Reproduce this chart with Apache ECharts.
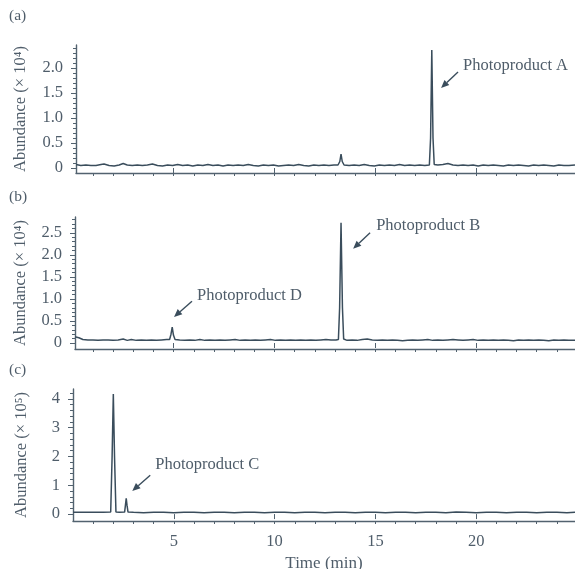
<!DOCTYPE html>
<html>
<head>
<meta charset="utf-8">
<script src="https://cdn.jsdelivr.net/npm/echarts@6/dist/echarts.min.js"></script>
<style>html,body{margin:0;padding:0;background:#fff;}#c{width:575px;height:569px;}</style>
</head>
<body>
<div id="c"></div>
<script>
// ---- data (time in min, abundance) ----
const traceA = [
[0.16,0.07],[0.4,0.05],[0.65,0.06],[0.9,0.05],[1.15,0.05],[1.4,0.07],[1.55,0.08],[1.8,0.05],[2.05,0.04],[2.3,0.06],[2.5,0.09],[2.7,0.06],[2.95,0.05],[3.2,0.06],[3.45,0.05],[3.7,0.06],[3.95,0.08],[4.2,0.05],[4.45,0.04],[4.7,0.06],[4.95,0.05],[5.2,0.07],[5.45,0.05],[5.7,0.06],[5.95,0.04],[6.2,0.06],[6.45,0.05],[6.7,0.07],[6.95,0.05],[7.2,0.06],[7.45,0.04],[7.7,0.06],[7.95,0.05],[8.2,0.06],[8.45,0.05],[8.7,0.07],[8.95,0.05],[9.2,0.04],[9.45,0.06],[9.7,0.05],[9.95,0.06],[10.2,0.04],[10.45,0.05],[10.7,0.06],[10.95,0.05],[11.2,0.07],[11.45,0.05],[11.7,0.04],[11.95,0.06],[12.2,0.05],[12.45,0.06],[12.7,0.05],[12.95,0.06],[13.15,0.06],[13.24,0.13],[13.3,0.28],[13.36,0.13],[13.45,0.06],[13.7,0.05],[13.95,0.06],[14.2,0.05],[14.45,0.07],[14.7,0.05],[14.95,0.04],[15.2,0.06],[15.45,0.05],[15.7,0.06],[15.95,0.05],[16.2,0.07],[16.45,0.05],[16.7,0.06],[16.95,0.05],[17.2,0.06],[17.45,0.05],[17.68,0.06],[17.74,0.6],[17.8,2.36],[17.86,0.6],[17.92,0.07],[18.1,0.06],[18.35,0.07],[18.6,0.09],[18.85,0.06],[19.1,0.05],[19.35,0.06],[19.6,0.05],[19.85,0.06],[20.1,0.04],[20.35,0.06],[20.6,0.05],[20.85,0.06],[21.1,0.05],[21.35,0.04],[21.6,0.06],[21.85,0.05],[22.1,0.06],[22.35,0.05],[22.6,0.04],[22.85,0.06],[23.1,0.05],[23.35,0.06],[23.6,0.05],[23.85,0.04],[24.1,0.06],[24.35,0.05],[24.6,0.05],[24.9,0.06]
];
const traceB = [
[0.11,0.14],[0.3,0.12],[0.5,0.08],[0.75,0.07],[1.0,0.07],[1.25,0.06],[1.5,0.07],[1.75,0.07],[2.0,0.06],[2.25,0.07],[2.5,0.09],[2.7,0.06],[2.9,0.08],[3.15,0.06],[3.4,0.07],[3.65,0.06],[3.9,0.07],[4.15,0.06],[4.4,0.07],[4.65,0.08],[4.8,0.08],[4.87,0.2],[4.93,0.36],[4.99,0.18],[5.07,0.08],[5.3,0.07],[5.55,0.06],[5.8,0.07],[6.05,0.06],[6.3,0.08],[6.55,0.06],[6.8,0.07],[7.05,0.06],[7.3,0.07],[7.55,0.06],[7.8,0.07],[8.05,0.08],[8.3,0.06],[8.55,0.07],[8.8,0.06],[9.05,0.07],[9.3,0.06],[9.55,0.07],[9.8,0.08],[10.05,0.06],[10.3,0.07],[10.55,0.06],[10.8,0.07],[11.05,0.06],[11.3,0.07],[11.55,0.06],[11.8,0.07],[12.05,0.06],[12.3,0.07],[12.55,0.08],[12.8,0.07],[13.05,0.07],[13.17,0.08],[13.23,0.8],[13.3,2.73],[13.37,0.8],[13.43,0.09],[13.6,0.06],[13.85,0.07],[14.1,0.06],[14.35,0.08],[14.6,0.09],[14.85,0.07],[15.1,0.06],[15.35,0.07],[15.6,0.06],[15.85,0.07],[16.1,0.06],[16.35,0.05],[16.6,0.06],[16.85,0.07],[17.1,0.06],[17.35,0.07],[17.6,0.08],[17.85,0.06],[18.1,0.07],[18.35,0.06],[18.6,0.07],[18.85,0.08],[19.1,0.07],[19.35,0.06],[19.6,0.07],[19.85,0.08],[20.1,0.06],[20.35,0.07],[20.6,0.06],[20.85,0.07],[21.1,0.06],[21.35,0.07],[21.6,0.06],[21.85,0.05],[22.1,0.07],[22.35,0.06],[22.6,0.07],[22.85,0.06],[23.1,0.07],[23.35,0.06],[23.6,0.05],[23.85,0.07],[24.1,0.06],[24.35,0.07],[24.6,0.06],[24.9,0.06]
];
const traceC = [
[0,0.06],[0.5,0.06],[1.0,0.06],[1.5,0.06],[1.87,0.07],[1.94,2.0],[2.0,4.17],[2.06,2.0],[2.13,0.07],[2.3,0.06],[2.56,0.07],[2.6,0.3],[2.64,0.55],[2.68,0.3],[2.73,0.07],[3.0,0.06],[3.5,0.05],[4.0,0.06],[4.5,0.06],[5.0,0.05],[5.5,0.06],[6.0,0.06],[6.5,0.05],[7.0,0.06],[7.5,0.06],[8.0,0.05],[8.5,0.06],[9.0,0.06],[9.5,0.05],[10.0,0.06],[10.5,0.06],[11.0,0.05],[11.5,0.06],[12.0,0.06],[12.5,0.05],[13.0,0.06],[13.5,0.06],[14.0,0.05],[14.5,0.06],[15.0,0.06],[15.5,0.05],[16.0,0.06],[16.5,0.06],[17.0,0.05],[17.5,0.06],[18.0,0.06],[18.5,0.05],[19.0,0.07],[19.5,0.06],[20.0,0.05],[20.5,0.06],[21.0,0.06],[21.5,0.05],[22.0,0.06],[22.5,0.06],[23.0,0.05],[23.5,0.06],[24.0,0.06],[24.5,0.05],[24.9,0.06]
];

// ---- tick labels ----
const xMinorTicks = [1,2,3,4,5,6,7,8,9,10,11,12,13,14,15,16,17,18,19,20,21,22,23,24];
const xMajorTicks = [5,10,15,20];
const yLabelsA = [0,0.5,1.0,1.5,2.0];
const yLabelsB = [0,0.5,1.0,1.5,2.0,2.5];
const yLabelsC = [0,1,2,3,4];
const yMinorA = [0,0.1,0.2,0.3,0.4,0.5,0.6,0.7,0.8,0.9,1.0,1.1,1.2,1.3,1.4,1.5,1.6,1.7,1.8,1.9,2.0,2.1,2.2,2.3,2.4];
const yMinorB = [0,0.1,0.2,0.3,0.4,0.5,0.6,0.7,0.8,0.9,1.0,1.1,1.2,1.3,1.4,1.5,1.6,1.7,1.8,1.9,2.0,2.1,2.2,2.3,2.4,2.5,2.6,2.7,2.8];
const yMinorC = [0,0.2,0.4,0.6,0.8,1.0,1.2,1.4,1.6,1.8,2.0,2.2,2.4,2.6,2.8,3.0,3.2,3.4,3.6,3.8,4.0,4.2];
const panelLetters = ['(a)','(b)','(c)'];
const yNames = ['Abundance (× 10⁴)','Abundance (× 10⁴)','Abundance (× 10⁵)'];
const xName = 'Time (min)';

// annotations in data coordinates
const annotations = [
  {panel:0, tail:[19.10,1.92], tip:[18.26,1.60], at:[19.35,2.04], text:'Photoproduct A'},
  {panel:1, tail:[14.74,2.50], tip:[13.90,2.14], at:[15.04,2.66], text:'Photoproduct B'},
  {panel:1, tail:[5.91,0.95],  tip:[5.02,0.59],  at:[6.16,1.07],  text:'Photoproduct D'},
  {panel:2, tail:[3.83,1.35],  tip:[2.94,0.80],  at:[4.08,1.70],  text:'Photoproduct C'}
];

const FONT = 'Liberation Serif';
const LINE = '#3a4d5c';
const AXIS = '#52626f';
const TEXT = '#4f5d6a';
const FS = 16.5;

const grids = [
  {left:76, right:0, top:45, height:128, outerBoundsMode:'none', containLabel:false},
  {left:75, right:0, top:217, height:132, outerBoundsMode:'none', containLabel:false},
  {left:73, right:0, top:389, height:132, outerBoundsMode:'none', containLabel:false}
];
const xRanges = [[0.16,24.9],[0.11,24.9],[0,24.9]];
const yRanges = [[-0.1,2.46],[-0.136,2.86],[-0.24,4.34]];
const yLabels = [yLabelsA,yLabelsB,yLabelsC];
const yMinor = [yMinorA,yMinorB,yMinorC];
const traces = [traceA,traceB,traceC];
const nameGaps = [47,46,43];

const xAxes = [], yAxes = [], series = [];
for (let i=0;i<3;i++){
  xAxes.push({
    type:'value', gridIndex:i, position:'bottom', min:xRanges[i][0], max:xRanges[i][1],
    axisLine:{show:true, onZero:false, lineStyle:{color:AXIS, width:1.4}},
    axisTick:{show:true, customValues:xMinorTicks, length:3, lineStyle:{color:AXIS, width:1}},
    axisLabel:{show:i===2, customValues:xMajorTicks, margin:12, color:TEXT, fontFamily:FONT, fontSize:FS},
    splitLine:{show:false},
    name: i===2 ? xName : '', nameLocation:'middle', nameGap:34,
    nameTextStyle:{color:TEXT, fontFamily:FONT, fontSize:FS+0.5}
  });
  yAxes.push({
    type:'value', gridIndex:i, position:'left', min:yRanges[i][0], max:yRanges[i][1],
    axisLine:{show:true, onZero:false, lineStyle:{color:AXIS, width:1.4}},
    axisTick:{show:true, customValues:yLabels[i], length:5, lineStyle:{color:AXIS, width:1}},
    axisLabel:{show:true, customValues:yLabels[i], margin:13, color:TEXT, fontFamily:FONT, fontSize:FS,
      formatter: v => (i===2 || v===0) ? String(Math.round(v)) : v.toFixed(1)},
    splitLine:{show:false},
    name: yNames[i], nameLocation:'middle', nameRotate:90, nameGap:nameGaps[i],
    nameTextStyle:{color:TEXT, fontFamily:FONT, fontSize:FS}
  });
  series.push({
    type:'line', xAxisIndex:i, yAxisIndex:i, data:traces[i], showSymbol:false, symbol:'none',
    lineStyle:{color:LINE, width:1.5}, clip:true, animation:false
  });
}
for (let i=0;i<3;i++){
  xAxes.push({
    type:'value', gridIndex:i, position:'bottom', offset:0, min:xRanges[i][0], max:xRanges[i][1],
    axisLine:{show:false}, axisLabel:{show:false}, splitLine:{show:false},
    axisTick:{show:true, customValues:xMajorTicks, length:5, lineStyle:{color:AXIS, width:1}}
  });
  yAxes.push({
    type:'value', gridIndex:i, position:'left', offset:0, min:yRanges[i][0], max:yRanges[i][1],
    axisLine:{show:false}, axisLabel:{show:false}, splitLine:{show:false},
    axisTick:{show:true, customValues:yMinor[i], length:3, lineStyle:{color:AXIS, width:1}}
  });
}

const chart = echarts.init(document.getElementById('c'));
chart.setOption({
  animation:false,
  backgroundColor:'#fff',
  grid:grids, xAxis:xAxes, yAxis:yAxes, series:series
});

const g = [];
const letterY = [17, 198, 371];
panelLetters.forEach((t,i)=>{
  g.push({type:'text', left:9, top:letterY[i]-9, style:{text:t, fill:TEXT, font:'15.5px "'+FONT+'"'}});
});
annotations.forEach(a=>{
  const f = {xAxisIndex:a.panel, yAxisIndex:a.panel};
  const p0 = chart.convertToPixel(f, a.tail);
  const p1 = chart.convertToPixel(f, a.tip);
  const pt = chart.convertToPixel(f, a.at);
  const dx = p1[0]-p0[0], dy = p1[1]-p0[1];
  const L = Math.sqrt(dx*dx+dy*dy), ux = dx/L, uy = dy/L;
  const hl = 8, hw = 3.5;
  const bx = p1[0]-ux*hl, by = p1[1]-uy*hl;
  g.push({type:'line', shape:{x1:p0[0], y1:p0[1], x2:bx, y2:by}, style:{stroke:LINE, lineWidth:1.4}});
  g.push({type:'polygon', shape:{points:[[p1[0],p1[1]],[bx-uy*hw,by+ux*hw],[bx+uy*hw,by-ux*hw]]}, style:{fill:LINE}});
  g.push({type:'text', x:pt[0], y:pt[1], style:{text:a.text, fill:TEXT, font:FS+'px "'+FONT+'"', textVerticalAlign:'middle', verticalAlign:'middle'}});
});
chart.setOption({graphic:g});
</script>
</body>
</html>
